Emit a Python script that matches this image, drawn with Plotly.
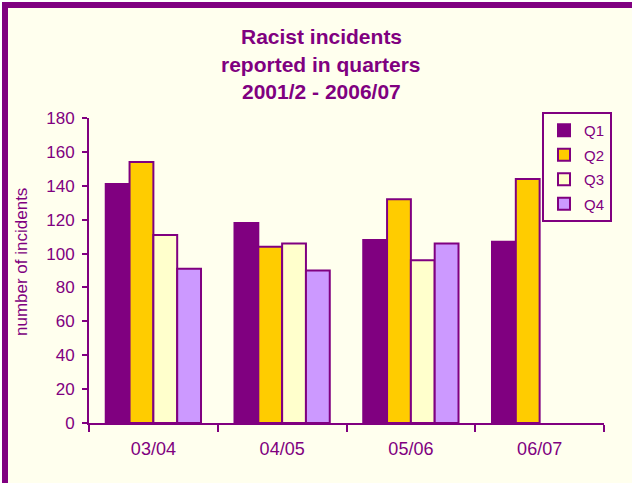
import plotly.graph_objects as go

categories = ["03/04", "04/05", "05/06", "06/07"]
q1 = [141, 118, 108, 107]
q2 = [154, 104, 132, 144]
q3 = [111, 106, 96, None]
q4 = [91, 90, 106, None]
series_names = ["Q1", "Q2", "Q3", "Q4"]
series_colors = ["#800080", "#FFCC00", "#FFFFCC", "#CC99FF"]
title_lines = ["Racist incidents", "reported in quarters", "2001/2 - 2006/07"]

PURPLE = "#800080"
BG = "#FFFFEE"
FONT = "Arial, Liberation Sans, sans-serif"

W, H = 632, 483
L, R, T, B = 89, 28, 118, 60
pw, ph = W - L - R, H - T - B


def px_x(p):
    return (p - L) / pw


def px_y(p):
    return (H - B - p) / ph


fig = go.Figure()
for i, (name, vals, col) in enumerate(zip(series_names, [q1, q2, q3, q4], series_colors)):
    fig.add_trace(go.Bar(
        x=categories, y=vals, name=name, legendgroup=name,
        marker=dict(color=col, line=dict(color=PURPLE, width=2)),
    ))

annotations = []
for ln, py in zip(title_lines, [37, 65, 92]):
    annotations.append(dict(text="<b>%s</b>" % ln, x=px_x(321), y=px_y(py), xref="paper", yref="paper",
                            showarrow=False, xanchor="center", yanchor="middle",
                            font=dict(family=FONT, size=21, color=PURPLE)))
annotations.append(dict(text="number of incidents", x=px_x(21), y=px_y(262), xref="paper", yref="paper",
                        showarrow=False, textangle=-90, xanchor="center", yanchor="middle",
                        font=dict(family=FONT, size=17, color=PURPLE)))

fig.update_layout(
    width=W, height=H,
    margin=dict(l=L, r=R, t=T, b=B),
    paper_bgcolor="white",
    plot_bgcolor="rgba(0,0,0,0)",
    barmode="group", bargap=0.26, bargroupgap=0,
    font=dict(family=FONT, color=PURPLE, size=16),
    showlegend=True,
    legend=dict(x=px_x(612), y=px_y(112), xanchor="right", yanchor="top",
                bgcolor=BG, bordercolor=PURPLE, borderwidth=2, itemwidth=30,
                font=dict(family=FONT, size=15, color=PURPLE),
                traceorder="grouped", tracegroupgap=2),
    annotations=annotations,
    shapes=[dict(type="rect", xref="paper", yref="paper", layer="below",
                 x0=px_x(5), x1=px_x(660), y0=px_y(510), y1=px_y(5),
                 fillcolor=BG, line=dict(color=PURPLE, width=6))],
    xaxis=dict(showline=True, linecolor=PURPLE, linewidth=2, ticks="outside", tickson="boundaries",
               ticklen=7, tickcolor=PURPLE, tickwidth=2, showgrid=False, zeroline=False,
               ticklabelstandoff=8,
               tickfont=dict(family=FONT, size=18, color=PURPLE)),
    yaxis=dict(range=[0, 180], dtick=20, showline=True, linecolor=PURPLE, linewidth=2, ticks="outside",
               ticklen=5, tickcolor=PURPLE, tickwidth=2, showgrid=False, zeroline=False,
               ticklabelstandoff=4,
               tickfont=dict(family=FONT, size=17, color=PURPLE)),
)

fig.write_html("out.html", config={"displayModeBar": False},
               post_script="document.body.style.margin='0px';")
